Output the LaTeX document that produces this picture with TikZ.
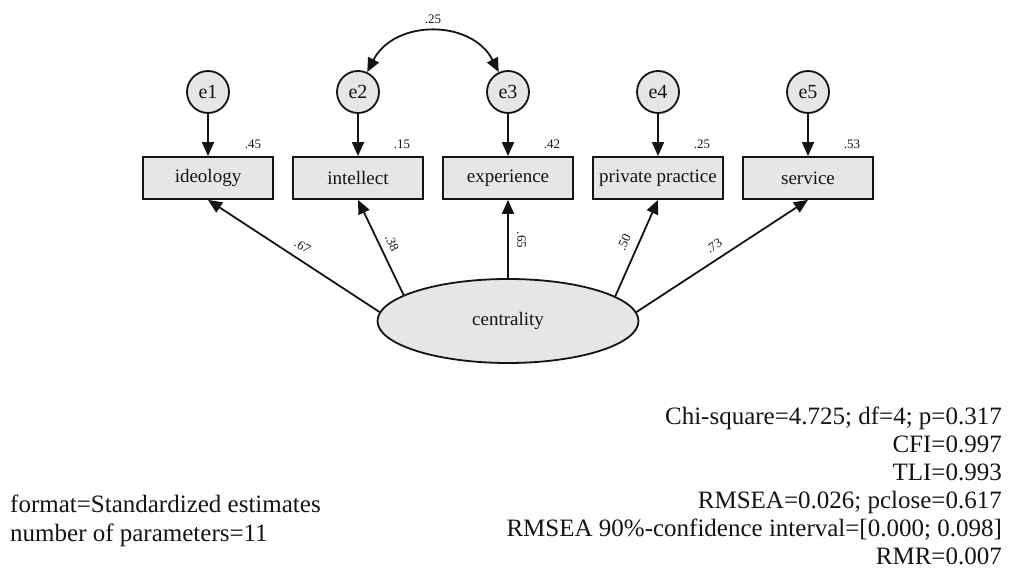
\documentclass[tikz,border=0pt]{standalone}
\usepackage{fontspec}
\setmainfont{Liberation Serif}
\usetikzlibrary{arrows.meta,shapes.geometric}
\definecolor{fillgray}{RGB}{230,230,230}
\definecolor{ink}{RGB}{20,20,20}
\begin{document}
\begin{tikzpicture}[x=1pt,y=1pt,
  errc/.style={circle, draw=ink, fill=fillgray, line width=1.8pt, minimum size=42pt, inner sep=0pt, text=ink, font=\fontsize{20}{23}\selectfont},
  obs/.style={rectangle, draw=ink, fill=fillgray, line width=1.8pt, minimum width=130pt, minimum height=42pt, inner sep=0pt, text=ink, font=\fontsize{19}{22}\selectfont},
  lat/.style={ellipse, draw=ink, fill=fillgray, line width=1.8pt, minimum width=261pt, minimum height=84pt, inner sep=0pt, text=ink, font=\fontsize{19}{22}\selectfont},
  arr/.style={-{Triangle[length=14pt,width=12pt]}, line width=1.8pt, draw=ink},
  arrboth/.style={{Triangle[length=14pt,width=12pt]}-{Triangle[length=14pt,width=12pt]}, line width=1.8pt, draw=ink},
  lab/.style={font=\fontsize{13}{15}\selectfont, inner sep=0pt, text=ink},
  fitline/.style={font=\fontsize{25}{28}\selectfont, inner sep=0pt, text=ink}
]
\useasboundingbox (0,0) rectangle (1012,585);

% error terms
\node[errc] (e1) at (208,493) {e1};
\node[errc] (e2) at (358,493) {e2};
\node[errc] (e3) at (508,493) {e3};
\node[errc] (e4) at (658,493) {e4};
\node[errc] (e5) at (808,493) {e5};

% observed variables
\node[obs] (ideo) at (208,407) {ideology};
\node[obs] (inte) at (358,407) {intellect};
\node[obs] (expe) at (508,407) {experience};
\node[obs] (priv) at (658,407) {private practice};
\node[obs] (serv) at (808,407) {service};

% latent
\node[lat] (cent) at (508,264) {centrality};

% error arrows
\draw[arr] (e1) -- (ideo);
\draw[arr] (e2) -- (inte);
\draw[arr] (e3) -- (expe);
\draw[arr] (e4) -- (priv);
\draw[arr] (e5) -- (serv);

% covariance
\draw[arrboth] (e2.65) to[out=63, in=117, looseness=1.16] (e3.115);
\node[lab] (cov) at (433,566) {.25};

% squared multiple correlations
\node[lab] (v1) at (253,441) {.45};
\node[lab] (v2) at (402,441) {.15};
\node[lab] (v3) at (552,441) {.42};
\node[lab] (v4) at (702,441) {.25};
\node[lab] (v5) at (852,441) {.53};

% loadings
\draw[arr] (cent.176) -- (ideo.south);
\draw[arr] (cent.166.7) -- (inte.south);
\draw[arr] (cent.north) -- (expe.south);
\draw[arr] (cent.13.3) -- (priv.south);
\draw[arr] (cent.4) -- (serv.south);

\node[lab, rotate=-33.3] (l1) at (302.5,338.5) {.67};
\node[lab, rotate=-65.7] (l2) at (392,342) {.38};
\node[lab, rotate=-90] (l3) at (521.5,345) {.65};
\node[lab, rotate=65.7] (l4) at (624,343) {.50};
\node[lab, rotate=33.3] (l5) at (714,339) {.73};

% fit statistics
\node[fitline, anchor=base east] (f1) at (1002,160) {Chi-square=4.725; df=4; p=0.317};
\node[fitline, anchor=base east] (f2) at (1002,132) {CFI=0.997};
\node[fitline, anchor=base east] (f3) at (1002,104) {TLI=0.993};
\node[fitline, anchor=base east] (f4) at (1002,76) {RMSEA=0.026; pclose=0.617};
\node[fitline, anchor=base east] (f5) at (1002,48) {RMSEA 90\%-confidence interval=[0.000; 0.098]};
\node[fitline, anchor=base east] (f6) at (1002,20) {RMR=0.007};

\node[fitline, anchor=base west] (g1) at (10,72) {format=Standardized estimates};
\node[fitline, anchor=base west] (g2) at (10,43) {number of parameters=11};
\end{tikzpicture}
\end{document}
